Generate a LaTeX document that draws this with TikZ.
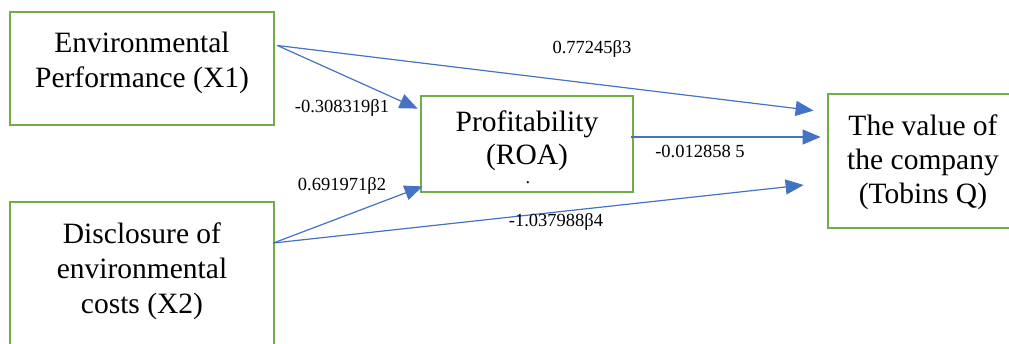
\documentclass[tikz,border=0pt]{standalone}
\usepackage{fontspec}
\setmainfont{Liberation Serif}
\usepackage{tikz}
\usetikzlibrary{arrows.meta}
\definecolor{boxgreen}{HTML}{70AD47}
\definecolor{arrowblue}{HTML}{4472C4}
\tikzset{
    green-box/.style = {draw=boxgreen, line width=2.8pt, rectangle, inner sep=0pt},
    box-text/.style = {align=center, inner sep=0pt, font=\fontsize{29.5}{35}\selectfont},
    path-arrow/.style = {draw=arrowblue, line width=1.2pt, -{Triangle[length=18pt,width=15pt]}},
    path-label/.style = {inner sep=0pt, font=\fontsize{18.5}{20}\selectfont},
}

\begin{document}
\begin{tikzpicture}[x=1pt,y=-1pt]
\useasboundingbox (0,0) rectangle (1009,343);
\node[green-box, minimum width=264pt, minimum height=113pt] (perf) at (142,68.5) {};
\node[green-box, minimum width=264pt, minimum height=144pt] (cost) at (142,274) {};
\node[green-box, minimum width=212pt, minimum height=96pt] (roa) at (527,144) {};
\node[green-box, minimum width=184pt, minimum height=134pt] (tq) at (920,161) {};

\node[box-text] (perf-text) at (142,63) {Environmental\\Performance (X1)};
\node[box-text] (cost-text) at (142,271) {Disclosure of\\environmental\\costs (X2)};
\node[box-text, font=\fontsize{29.5}{33}\selectfont] (roa-text) at (527,141) {Profitability\\(ROA)};
\node[box-text, font=\fontsize{29.5}{34}\selectfont] (tq-text) at (923,162.5) {The value of\\the company\\(Tobins Q)};
\node[path-label] (roa-dot) at (528,183) {.};

\draw[path-arrow] ([xshift=2pt,yshift=23pt]perf.east) -- ([xshift=-2pt,yshift=-14pt]roa.north west);
\draw[path-arrow] ([xshift=2pt,yshift=23pt]perf.east) -- ([xshift=-13pt,yshift=-18pt]tq.north west);
\draw[path-arrow] ([xshift=-3pt,yshift=7pt]roa.east) -- ([xshift=-6pt,yshift=24pt]tq.west);
\draw[path-arrow] ([xshift=-2pt,yshift=31pt]cost.east) -- ([xshift=3pt,yshift=7pt]roa.south west);
\draw[path-arrow] ([xshift=-2pt,yshift=31pt]cost.east) -- ([xshift=-23pt,yshift=-24pt]tq.west);

\node[path-label] (lbl-b3) at (592,49) {0.77245β3};
\node[path-label] (lbl-b1) at (342,108) {-0.308319β1};
\node[path-label] (lbl-b5) at (700,151) {-0.012858 5};
\node[path-label] (lbl-b2) at (342,186) {0.691971β2};
\node[path-label] (lbl-b4) at (556,222) {-1.037988β4};
\end{tikzpicture}
\end{document}
